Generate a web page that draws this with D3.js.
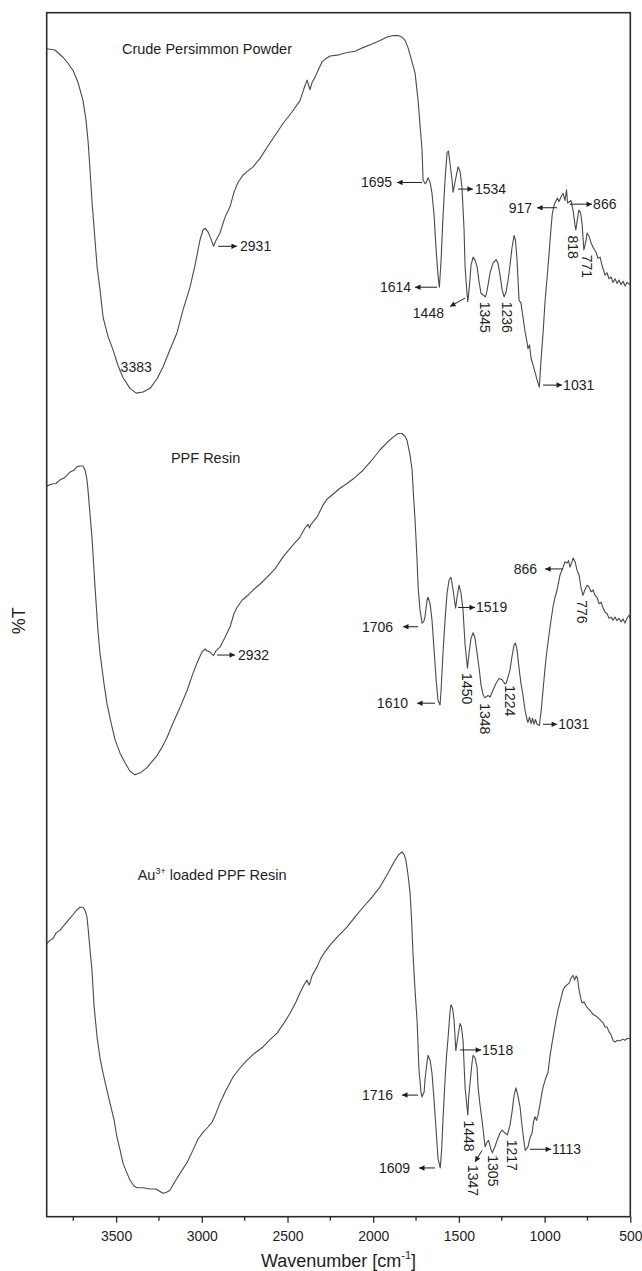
<!DOCTYPE html>
<html>
<head>
<meta charset="utf-8">
<script src="https://cdn.jsdelivr.net/npm/d3@7"></script>
<style>
  body { margin: 0; background: #fff; }
  svg { display: block; }
  text { font-family: "Liberation Sans", Arial, Helvetica, sans-serif; fill: #1e1e1e; }
</style>
</head>
<body>
<svg id="chart" width="642" height="1271"></svg>
<script>
// FTIR spectra: [wavenumber (cm-1), offset transmittance (%T, arbitrary)]
const crudePowder = [
  [3905,97.0],[3857,96.9],[3810,96.3],[3781,95.8],[3751,95.2],[3722,94.2],[3693,92.7],[3676,91.1],
  [3664,89.4],[3652,86.9],[3641,84.4],[3623,81.1],[3611,78.9],[3594,77.0],[3576,74.7],[3547,73.1],
  [3518,72.0],[3489,70.7],[3460,69.7],[3419,68.8],[3383,68.4],[3343,68.5],[3302,68.8],[3261,69.6],
  [3226,70.6],[3186,72.0],[3145,73.4],[3110,75.3],[3069,77.2],[3040,79.0],[3011,81.1],[2993,81.95],
  [2981,82.1],[2964,81.8],[2952,81.4],[2931,80.6],[2917,81.1],[2894,81.7],[2865,83.0],[2835,83.9],
  [2812,85.1],[2789,85.9],[2760,86.5],[2736,86.8],[2701,87.2],[2660,87.9],[2620,88.8],[2573,89.8],
  [2526,90.8],[2474,91.75],[2427,92.7],[2404,93.7],[2386,94.4],[2375,93.9],[2369,93.6],[2357,94.2],
  [2339,94.65],[2322,95.2],[2299,95.9],[2275,96.2],[2252,96.4],[2200,96.5],[2153,96.7],[2106,96.8],
  [2059,97.1],[2007,97.4],[1960,97.7],[1919,97.98],[1884,98.1],[1855,98.1],[1832,97.98],[1814,97.7],
  [1797,97.1],[1779,96.2],[1756,95.0],[1738,92.7],[1727,90.7],[1715,88.6],[1709,86.1],[1697,85.8],
  [1692,85.85],[1680,86.3],[1668,85.9],[1657,85.0],[1645,83.2],[1633,80.3],[1622,78.2],[1614,77.2],
  [1604,79.4],[1593,83.0],[1581,86.1],[1569,88.4],[1561,88.5],[1552,87.5],[1540,86.1],[1534,85.1],
  [1523,85.9],[1505,87.2],[1493,86.8],[1482,85.5],[1470,82.0],[1464,78.9],[1452,76.55],[1448,76.0],
  [1438,77.4],[1429,79.05],[1417,79.7],[1406,79.45],[1394,78.9],[1382,77.6],[1371,76.7],[1359,76.55],
  [1345,76.4],[1336,76.9],[1318,78.4],[1301,79.2],[1283,79.5],[1272,79.2],[1260,78.2],[1248,77.0],
  [1236,76.4],[1225,76.8],[1213,77.8],[1202,79.0],[1190,80.5],[1178,81.5],[1170,81.1],[1161,79.5],
  [1155,77.8],[1149,76.1],[1138,75.9],[1126,74.7],[1114,73.5],[1102,72.6],[1097,72.1],[1088,72.4],
  [1079,71.3],[1067,70.7],[1056,70.15],[1044,69.5],[1031,68.9],[1021,71.1],[1009,73.4],[997,76.1],
  [980,78.9],[968,81.1],[956,83.2],[945,84.0],[933,84.4],[924,84.6],[917,84.3],[904,84.7],
  [892,85.0],[881,84.4],[872,85.3],[866,84.2],[846,84.4],[834,83.6],[822,82.3],[818,81.95],
  [808,82.9],[800,83.6],[790,83.4],[781,82.4],[771,80.3],[758,81.1],[752,81.7],[741,81.45],
  [729,80.9],[717,80.5],[700,80.1],[688,79.6],[676,79.7],[665,79.0],[647,78.2],[636,78.4],
  [624,77.9],[612,78.05],[601,77.6],[589,77.9],[577,77.5],[566,77.8],[554,77.4],[542,77.7],
  [531,77.3],[519,77.6],[501,77.4]
];

const ppfResin = [
  [3903,60.7],[3874,60.85],[3851,60.9],[3827,61.2],[3804,61.35],[3786,61.6],[3769,61.85],[3746,62.0],
  [3728,62.3],[3711,62.35],[3693,62.35],[3681,62.0],[3670,61.2],[3664,60.35],[3652,58.3],[3641,56.45],
  [3623,52.3],[3606,48.7],[3594,46.8],[3571,44.3],[3553,42.6],[3530,41.05],[3506,39.6],[3477,38.5],
  [3448,37.7],[3419,37.0],[3390,36.7],[3355,36.9],[3320,37.3],[3291,37.8],[3261,38.3],[3232,39.0],
  [3203,39.8],[3168,41.0],[3127,42.3],[3086,43.7],[3051,45.15],[3022,46.2],[2999,46.9],[2981,47.15],
  [2970,47.0],[2952,46.9],[2932,46.6],[2917,47.0],[2894,47.3],[2865,48.1],[2835,49.0],[2812,50.1],
  [2795,50.6],[2765,51.2],[2736,51.55],[2701,52.05],[2660,52.55],[2620,53.1],[2573,53.8],[2526,54.8],
  [2474,55.7],[2427,56.45],[2398,57.2],[2380,57.5],[2372,57.2],[2363,57.5],[2328,58.1],[2293,59.1],
  [2269,59.6],[2252,59.8],[2194,60.5],[2153,60.9],[2106,61.4],[2059,62.0],[2007,62.85],[1960,63.7],
  [1919,64.3],[1884,64.75],[1855,65.05],[1832,65.05],[1814,64.8],[1803,64.5],[1785,63.25],[1773,62.0],
  [1765,59.95],[1756,57.9],[1744,54.5],[1738,52.3],[1727,50.4],[1715,49.3],[1706,49.4],[1698,49.8],
  [1686,51.2],[1680,51.45],[1668,50.9],[1657,49.55],[1645,47.1],[1633,44.6],[1622,42.9],[1610,42.5],
  [1604,43.75],[1593,46.8],[1581,49.55],[1569,51.8],[1557,52.9],[1546,53.1],[1534,52.05],[1519,50.55],
  [1511,51.45],[1499,52.45],[1488,51.8],[1476,50.4],[1464,47.5],[1450,45.55],[1441,46.8],[1429,48.05],
  [1417,48.5],[1406,48.05],[1394,46.8],[1382,45.55],[1371,44.15],[1359,43.35],[1348,43.1],[1330,43.3],
  [1318,43.15],[1301,43.75],[1283,44.3],[1266,44.7],[1248,44.6],[1231,44.25],[1224,44.3],[1202,45.4],
  [1190,46.55],[1178,47.5],[1170,47.65],[1161,47.1],[1149,45.55],[1138,44.3],[1126,43.3],[1114,42.05],
  [1102,41.25],[1097,41.05],[1088,41.5],[1079,40.95],[1070,41.4],[1062,40.9],[1053,41.3],[1044,40.9],
  [1031,40.8],[1021,41.9],[1009,43.75],[997,45.65],[986,47.05],[968,49.0],[951,50.65],[939,51.45],
  [927,52.05],[910,53.3],[892,53.95],[881,54.4],[869,54.3],[860,54.5],[852,53.95],[840,54.4],
  [834,54.7],[822,54.4],[811,53.7],[799,53.3],[787,52.2],[776,51.6],[764,52.1],[752,52.45],
  [741,52.3],[729,51.9],[717,52.05],[706,51.6],[694,51.45],[682,50.9],[670,51.05],[659,50.55],
  [647,50.2],[636,50.1],[624,49.7],[612,49.8],[601,49.55],[589,49.8],[577,49.5],[566,49.7],
  [554,49.4],[542,49.65],[531,49.3],[519,49.7],[507,49.95],[501,49.7]
];

const auLoadedResin = [
  [3903,22.7],[3886,22.95],[3868,23.1],[3851,23.55],[3827,23.8],[3810,24.1],[3792,24.4],[3769,24.8],
  [3751,25.1],[3734,25.4],[3711,25.7],[3693,25.7],[3681,25.45],[3670,24.9],[3664,24.05],[3652,22.15],
  [3641,20.5],[3629,17.55],[3611,14.9],[3594,13.2],[3576,11.9],[3553,10.5],[3536,9.45],[3512,8.05],
  [3495,6.6],[3477,5.55],[3460,4.45],[3436,3.6],[3419,3.05],[3396,2.55],[3378,2.4],[3343,2.4],
  [3302,2.3],[3267,2.3],[3244,2.1],[3226,1.95],[3203,2.05],[3186,2.2],[3156,2.95],[3127,3.6],
  [3086,4.5],[3051,5.55],[3022,6.45],[2993,7.0],[2964,7.45],[2940,7.85],[2917,8.6],[2894,9.45],
  [2859,10.5],[2818,11.6],[2777,12.35],[2736,13.0],[2690,13.6],[2643,14.1],[2602,14.7],[2561,15.25],
  [2520,16.1],[2485,16.9],[2450,17.85],[2427,18.6],[2404,19.25],[2386,19.65],[2375,19.25],[2369,19.4],
  [2357,20.0],[2328,20.75],[2304,21.5],[2281,22.0],[2252,22.55],[2205,23.3],[2153,24.05],[2106,24.9],
  [2059,25.7],[2007,26.55],[1960,27.4],[1913,28.55],[1873,29.6],[1849,30.1],[1832,30.3],[1820,30.1],
  [1809,29.6],[1797,28.4],[1785,26.9],[1776,24.65],[1768,21.9],[1756,18.8],[1744,16.3],[1733,12.2],
  [1721,10.35],[1716,9.95],[1703,10.35],[1698,11.35],[1686,12.85],[1680,13.4],[1668,13.0],[1657,11.9],
  [1645,9.7],[1633,7.2],[1622,4.85],[1609,4.05],[1601,5.5],[1593,8.0],[1581,11.35],[1572,13.4],
  [1563,14.9],[1552,17.0],[1546,17.6],[1537,17.3],[1528,16.3],[1518,13.8],[1505,15.05],[1493,16.05],
  [1485,15.75],[1476,14.65],[1464,10.75],[1448,8.45],[1444,9.7],[1435,11.1],[1423,12.85],[1417,13.4],
  [1406,13.2],[1394,12.4],[1388,10.75],[1377,9.3],[1365,8.0],[1353,6.5],[1347,5.8],[1336,6.2],
  [1327,6.35],[1315,5.7],[1305,5.3],[1289,5.85],[1277,6.35],[1260,6.95],[1248,7.2],[1231,6.95],
  [1217,6.8],[1202,7.6],[1190,8.7],[1178,10.1],[1167,10.7],[1155,10.0],[1143,9.1],[1132,7.6],
  [1120,6.2],[1113,5.5],[1097,5.8],[1085,6.55],[1073,6.95],[1065,7.85],[1056,8.3],[1047,8.0],
  [1038,8.45],[1027,9.3],[1015,10.35],[1009,10.75],[997,11.35],[980,12.0],[968,13.4],[951,14.9],
  [933,16.35],[922,17.15],[904,18.15],[892,18.85],[881,19.1],[869,19.25],[857,19.4],[846,19.8],
  [834,20.05],[825,19.65],[816,20.0],[808,19.8],[799,18.85],[787,18.0],[781,17.75],[770,17.85],
  [758,17.5],[747,17.3],[735,17.15],[723,16.9],[711,16.75],[694,16.6],[676,16.35],[659,16.1],
  [647,15.75],[636,15.75],[624,15.35],[612,15.1],[601,14.65],[589,14.5],[577,14.65],[566,14.6],
  [554,14.65],[542,14.75],[531,14.65],[519,14.8],[501,14.8]
];

const spectra = [crudePowder, ppfResin, auLoadedResin];

// Axis ticks
const majorTicks = [3500, 3000, 2500, 2000, 1500, 1000, 500];
const minorTicks = [3750, 3250, 2750, 2250, 1750, 1250, 750];

// Sample names, placed in data coordinates [wavenumber, %T]
const sampleNames = [
  { parts: [["Crude Persimmon Powder", false]], at: [2970, 97.0] },
  { parts: [["PPF Resin", false]], at: [2978, 63.0] },
  { parts: [["Au", false], ["3+", true], [" loaded PPF Resin", false]], at: [2940, 28.4] }
];

// Band labels: text, anchor point [wavenumber, %T], text-anchor, vertical?
const bandLabels = [
  ["3383", [3383, 70.6], "middle", false],
  ["2931", [2777, 80.6], "start", false],
  ["1695", [1890, 85.9], "end", false],
  ["1534", [1406, 85.35], "start", false],
  ["1614", [1779, 77.2], "end", false],
  ["1448", [1587, 75.05], "end", false],
  ["1345", [1347, 76.0], "start", true],
  ["1236", [1221, 76.0], "start", true],
  ["1031", [892, 69.07], "start", false],
  ["917", [1073, 83.8], "end", false],
  ["866", [717, 84.1], "start", false],
  ["818", [834, 81.5], "start", true],
  ["771", [752, 79.9], "start", true],

  ["2932", [2789, 46.65], "start", false],
  ["866", [1044, 53.8], "end", false],
  ["776", [781, 51.2], "start", true],
  ["1519", [1400, 50.6], "start", false],
  ["1706", [1884, 49.0], "end", false],
  ["1610", [1797, 42.65], "end", false],
  ["1450", [1453, 45.15], "start", true],
  ["1348", [1347, 42.65], "start", true],
  ["1224", [1202, 44.15], "start", true],
  ["1031", [921, 40.9], "start", false],

  ["1716", [1884, 10.1], "end", false],
  ["1609", [1785, 4.05], "end", false],
  ["1518", [1365, 13.85], "start", false],
  ["1448", [1441, 8.0], "start", true],
  ["1347", [1418, 4.3], "start", true],
  ["1305", [1301, 5.1], "start", true],
  ["1217", [1190, 6.4], "start", true],
  ["1113", [957, 5.6], "start", false]
];

// Pointer arrows: from [wavenumber, %T] to [wavenumber, %T] (head at the end)
const pointers = [
  [[2905, 80.6], [2795, 80.6]],
  [[1715, 85.9], [1861, 85.9]],
  [[1505, 85.35], [1418, 85.35]],
  [[1627, 77.2], [1756, 77.2]],
  [[1464, 76.3], [1552, 75.6]],
  [[1009, 69.07], [898, 69.07]],
  [[927, 83.8], [1044, 83.8]],
  [[852, 84.1], [723, 84.1]],

  [[2911, 46.65], [2806, 46.65]],
  [[892, 53.8], [997, 53.8]],
  [[1505, 50.6], [1406, 50.6]],
  [[1738, 49.0], [1826, 49.0]],
  [[1639, 42.65], [1744, 42.65]],
  [[1009, 40.9], [927, 40.9]],

  [[1738, 10.1], [1832, 10.1]],
  [[1639, 4.05], [1733, 4.05]],
  [[1493, 13.85], [1370, 13.85]],
  [[1365, 5.5], [1406, 4.55]],
  [[1085, 5.6], [962, 5.6]]
];

const plot = { left: 46.7, right: 630.3, top: 12.7, bottom: 1216.7 };

const svg = d3.select("#chart");

const x = d3.scaleLinear().domain([3905, 500]).range([plot.left, plot.right]);
const y = d3.scaleLinear().domain([0, 100]).range([plot.bottom, plot.top]);

// arrowhead marker
svg.append("defs").append("marker")
  .attr("id", "head")
  .attr("viewBox", "0 0 10 10")
  .attr("refX", 10).attr("refY", 5)
  .attr("markerWidth", 8).attr("markerHeight", 5.5)
  .attr("markerUnits", "userSpaceOnUse")
  .attr("orient", "auto")
  .append("path").attr("d", "M0,0L10,5L0,10Z").attr("fill", "#1e1e1e");

// spectra
const line = d3.line().x(d => x(d[0])).y(d => y(d[1]));
svg.append("g").selectAll("path")
  .data(spectra)
  .join("path")
  .attr("d", line)
  .attr("fill", "none")
  .attr("stroke", "#4a4a4a")
  .attr("stroke-width", 1.1)
  .attr("stroke-linejoin", "round");

// frame
svg.append("rect")
  .attr("x", plot.left).attr("y", plot.top)
  .attr("width", plot.right - plot.left).attr("height", plot.bottom - plot.top)
  .attr("fill", "none").attr("stroke", "#2a2a2a").attr("stroke-width", 1.6);

// bottom axis: major ticks with labels, unlabeled minor ticks
const axisG = svg.append("g").attr("transform", `translate(0,${plot.bottom})`);
axisG.call(d3.axisBottom(x).tickValues(majorTicks).tickSize(6).tickPadding(8).tickFormat(d3.format("d")))
  .call(g => g.select(".domain").remove())
  .call(g => g.selectAll(".tick line").attr("stroke", "#2a2a2a").attr("stroke-width", 1.3))
  .call(g => g.selectAll(".tick text").attr("font-size", 14).attr("fill", "#1e1e1e")
    .attr("font-family", '"Liberation Sans", Arial, sans-serif'));
axisG.selectAll(".minor")
  .data(minorTicks)
  .join("line")
  .attr("class", "minor")
  .attr("x1", d => x(d)).attr("x2", d => x(d))
  .attr("y1", 0).attr("y2", 4)
  .attr("stroke", "#2a2a2a").attr("stroke-width", 1.3);

// axis titles
const xTitle = svg.append("text")
  .attr("x", (plot.left + plot.right) / 2).attr("y", 1267)
  .attr("text-anchor", "middle").attr("font-size", 18);
xTitle.append("tspan").text("Wavenumber [cm");
xTitle.append("tspan").attr("font-size", 11).attr("dy", -8).text("-1");
xTitle.append("tspan").attr("dy", 8).text("]");

svg.append("text")
  .attr("transform", `translate(25,${(plot.top + plot.bottom) / 2 + 6}) rotate(-90)`)
  .attr("text-anchor", "middle").attr("font-size", 18)
  .text("%T");

// sample names
svg.append("g").selectAll("text")
  .data(sampleNames)
  .join("text")
  .attr("x", d => x(d.at[0])).attr("y", d => y(d.at[1]))
  .attr("dy", "0.35em")
  .attr("text-anchor", "middle")
  .attr("font-size", 14.5)
  .each(function (d) {
    const t = d3.select(this);
    let raised = false;
    d.parts.forEach(([s, sup]) => {
      const ts = t.append("tspan").text(s);
      if (sup && !raised) { ts.attr("font-size", 9).attr("dy", -6); raised = true; }
      else if (!sup && raised) { ts.attr("dy", 6); raised = false; }
    });
  });

// band labels
svg.append("g").selectAll("text")
  .data(bandLabels)
  .join("text")
  .attr("transform", d => `translate(${x(d[1][0])},${y(d[1][1])})` + (d[3] ? " rotate(90)" : ""))
  .attr("dy", "0.35em")
  .attr("text-anchor", d => d[2])
  .attr("font-size", 14)
  .text(d => d[0]);

// pointer arrows
svg.append("g").selectAll("line")
  .data(pointers)
  .join("line")
  .attr("x1", d => x(d[0][0])).attr("y1", d => y(d[0][1]))
  .attr("x2", d => x(d[1][0])).attr("y2", d => y(d[1][1]))
  .attr("stroke", "#1e1e1e").attr("stroke-width", 1)
  .attr("marker-end", "url(#head)");
</script>
</body>
</html>
